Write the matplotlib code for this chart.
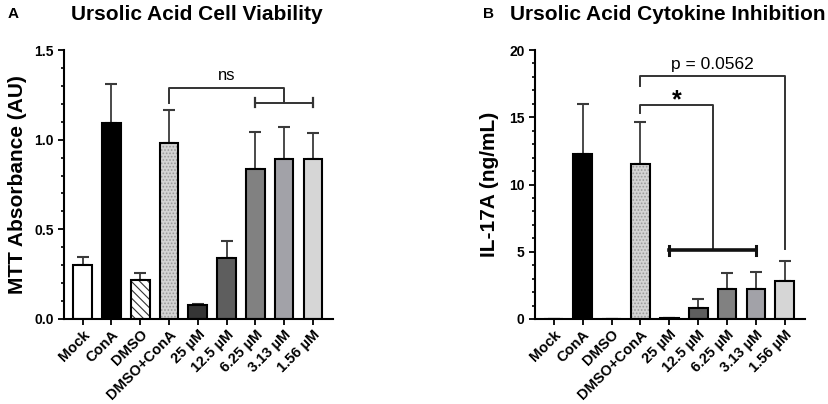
import matplotlib
matplotlib.use('Agg')
import matplotlib.pyplot as plt
from matplotlib.ticker import MultipleLocator, FormatStrFormatter
import numpy as np

plt.rcParams['font.family'] = ['Liberation Sans', 'DejaVu Sans']
plt.rcParams['hatch.linewidth'] = 0.8

groups = ['Mock', 'ConA', 'DMSO', 'DMSO+ConA', '25 µM', '12.5 µM', '6.25 µM', '3.13 µM', '1.56 µM']

# panel A: MTT absorbance
mtt_mean = [0.30, 1.095, 0.22, 0.983, 0.078, 0.342, 0.835, 0.892, 0.892]
mtt_err = [0.044, 0.215, 0.038, 0.182, 0.006, 0.095, 0.205, 0.180, 0.143]

# panel B: IL-17A
il17_mean = [0.0, 12.25, 0.0, 11.52, 0.05, 0.80, 2.25, 2.25, 2.83]
il17_err = [0.0, 3.75, 0.0, 3.15, 0.0, 0.66, 1.15, 1.25, 1.51]

fills = ['white', 'black', 'white', '#d4d4d4', '#353535', '#5e5e5e', '#818181', '#a2a2a8', '#d6d6d6']
hatches = ['', '', '\\\\\\\\', '.....', '', '', '', '', '']

fig = plt.figure(figsize=(8.29, 4.04), dpi=100)
axA = fig.add_axes([64/829, 1-319/404, 269/829, 269/404])
axB = fig.add_axes([535/829, 1-319/404, 270/829, 269/404])

x = np.arange(len(groups))
W = 0.65


def draw_bars(ax, mean, err):
    for i in range(len(groups)):
        if hatches[i]:
            hc = '#333333' if i == 2 else '#9a9a9a'
            ax.bar(x[i], mean[i], W, color=fills[i], hatch=hatches[i],
                   edgecolor=hc, linewidth=0, zorder=2)
            ax.bar(x[i], mean[i], W, fill=False, edgecolor='black', linewidth=1.5, zorder=3)
        else:
            ax.bar(x[i], mean[i], W, color=fills[i], edgecolor='black', linewidth=1.5, zorder=2)
    lo = np.zeros(len(mean))
    ax.errorbar(x, mean, yerr=[lo, err], fmt='none', ecolor='#3a3a3a',
                elinewidth=1.3, capsize=4, capthick=1.5, zorder=1)
    ax.spines['top'].set_visible(False)
    ax.spines['right'].set_visible(False)
    ax.spines['left'].set_linewidth(1.5)
    ax.spines['bottom'].set_linewidth(1.5)
    ax.set_xlim(-0.65, 8.7)
    ax.set_xticks(x)
    ax.set_xticklabels(groups, rotation=45, ha='right', rotation_mode='anchor',
                       fontsize=10.5, fontweight='bold')
    ax.tick_params(axis='x', length=4, width=1.3, pad=2)
    ax.tick_params(axis='y', which='major', length=4, width=1.3, labelsize=10)
    ax.tick_params(axis='y', which='minor', length=2.5, width=1.2)


draw_bars(axA, mtt_mean, mtt_err)
axA.set_ylim(0, 1.5)
axA.yaxis.set_major_locator(MultipleLocator(0.5))
axA.yaxis.set_minor_locator(MultipleLocator(0.1))
axA.yaxis.set_major_formatter(FormatStrFormatter('%.1f'))
for lab in axA.get_yticklabels():
    lab.set_fontweight('bold')
axA.set_ylabel('MTT Absorbance (AU)', fontsize=15, fontweight='bold', labelpad=5)

draw_bars(axB, il17_mean, il17_err)
axB.set_ylim(0, 20)
axB.yaxis.set_major_locator(MultipleLocator(5))
axB.yaxis.set_minor_locator(MultipleLocator(1))
for lab in axB.get_yticklabels():
    lab.set_fontweight('bold')
axB.set_ylabel('IL-17A (ng/mL)', fontsize=15, fontweight='bold', labelpad=7)

lc = '#333333'
# significance brackets, panel A
axA.plot([3, 3, 7, 7], [1.205, 1.29, 1.29, 1.205], color=lc, lw=1.4, clip_on=False)
axA.plot([6, 8], [1.205, 1.205], color=lc, lw=1.4)
axA.plot([6, 6], [1.18, 1.23], color=lc, lw=1.6)
axA.plot([8, 8], [1.18, 1.23], color=lc, lw=1.6)
axA.text(5, 1.315, 'ns', ha='center', va='bottom', fontsize=12)

# significance brackets, panel B
axB.plot([3, 3, 8, 8], [17.3, 18.1, 18.1, 5.2], color=lc, lw=1.4, clip_on=False)
axB.text(5.5, 18.4, 'p = 0.0562', ha='center', va='bottom', fontsize=12.5)
axB.plot([3, 3, 5.5, 5.5], [15.3, 15.9, 15.9, 5.1], color=lc, lw=1.4)
axB.plot([4, 7], [5.1, 5.1], color='#111111', lw=2.6)
axB.plot([4, 4], [4.75, 5.45], color='#111111', lw=2.2)
axB.plot([7, 7], [4.75, 5.45], color='#111111', lw=2.2)
axB.text(4.25, 15.4, '*', ha='center', va='bottom', fontsize=18, fontweight='bold')

# panel titles
fig.text(8/829, 1-14/404, 'A', fontsize=11, fontweight='bold', va='center')
fig.text(197/829, 1-14/404, 'Ursolic Acid Cell Viability', fontsize=15,
         fontweight='bold', va='center', ha='center')
fig.text(483/829, 1-14/404, 'B', fontsize=11, fontweight='bold', va='center')
fig.text(510/829, 1-14/404, 'Ursolic Acid Cytokine Inhibition', fontsize=15,
         fontweight='bold', va='center', ha='left')

fig.savefig('out.png', dpi=100)
